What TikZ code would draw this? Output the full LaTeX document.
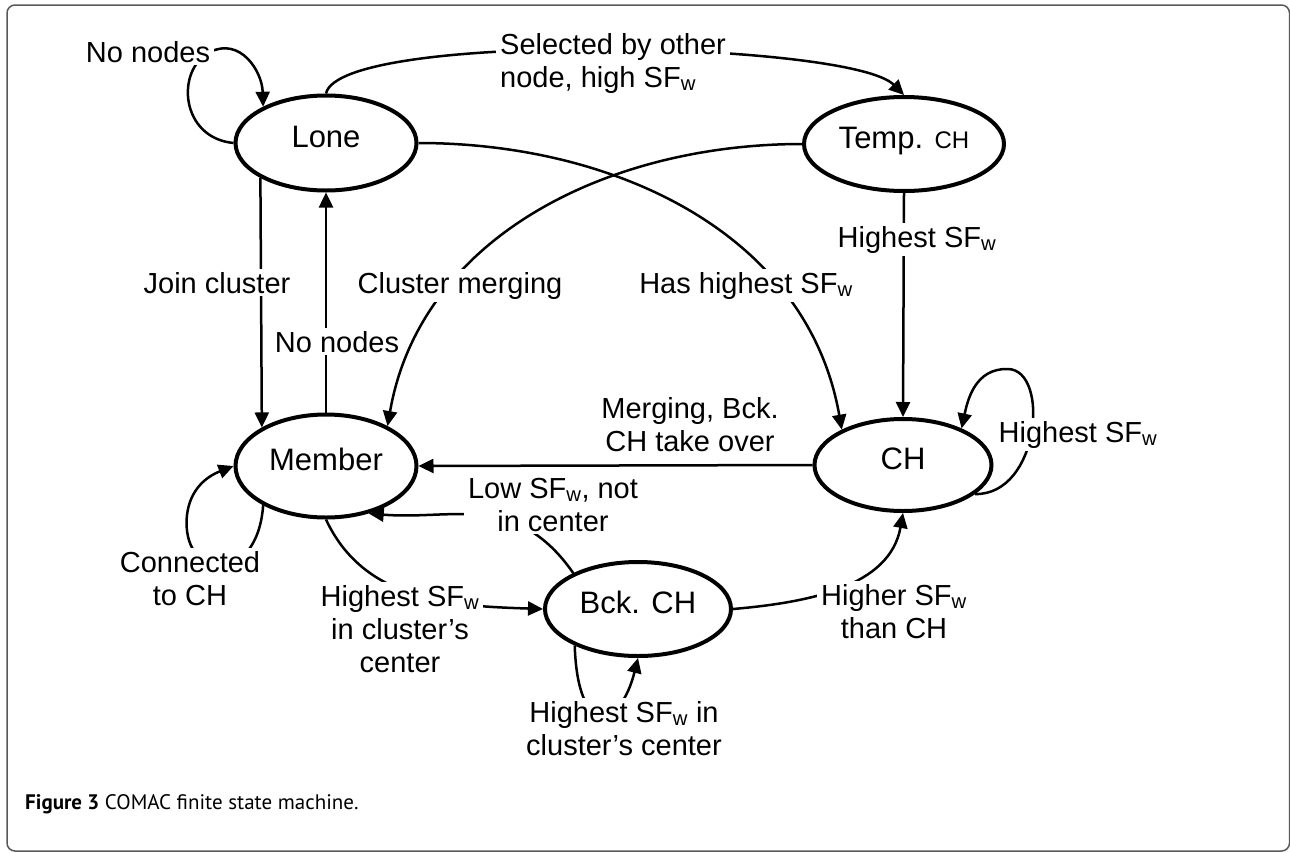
\documentclass[tikz,border=0pt]{standalone}
\usepackage{fontspec}
\setmainfont{Liberation Sans}
\newfontfamily\capfont{PT Sans}
\usetikzlibrary{arrows.meta,shapes.geometric}
\newcommand{\SFw}{SF\textsubscript{w}}
\begin{document}
\begin{tikzpicture}[x=1pt,y=1pt,
  stnode/.style={ellipse, draw, line width=4pt, inner sep=0pt,
    font=\fontsize{31}{35}\selectfont, text height=22pt, text depth=14pt},
  conn/.style={line width=2.5pt},
  arr/.style={conn, -{Triangle[length=15pt,width=14pt]}},
  lbl/.style={fill=white, inner xsep=4pt, inner ysep=3pt, align=center,
    font=\fontsize{29}{33}\selectfont},
]
\useasboundingbox (0,0) rectangle (1290,-852);
\draw[black!65, line width=1.5pt, rounded corners=8pt] (7,-5) rectangle (1289.5,-851);

% states
\node[stnode, minimum width=181pt, minimum height=95pt] (lone) at (326,-143) {Lone};
\node[stnode, minimum width=200pt, minimum height=94pt] (temp) at (904,-144) {Temp. {\fontsize{24}{28}\selectfont CH}};
\node[stnode, minimum width=181pt, minimum height=103pt] (member) at (326,-466) {Member};
\node[stnode, minimum width=177pt, minimum height=92pt] (ch) at (903,-465) {CH};
\node[stnode, minimum width=186pt, minimum height=94pt] (bck) at (638,-609) {Bck. CH};

\coordinate (loneloop) at (210,-52);
\coordinate (chloop) at (1008,-369);
\coordinate (mloop) at (187,-515);

% connectors
\draw[arr] (lone.west) .. controls +(-53,5) and +(-35,-18) .. (loneloop)
  .. controls +(30,15) and +(-1,36) .. (lone.150);
\draw[arr] (lone.north) .. controls +(14,63) and +(-54,54) .. (temp.north);
\draw[arr] (lone.east) .. controls +(198,0) and +(-34,195) .. (ch.150);
\draw[arr] (temp.west) .. controls +(-193,0) and +(33,190) .. (member.33);
\draw[arr] (lone.208.4) -- (member.149.6);
\draw[arr] (member.north) -- (lone.south);
\draw[arr] (ch.west) -- (member.east);
\draw[arr] (temp.south) -- (ch.north);
\draw[arr] (ch.-22) .. controls +(65,-1) and +(42,-1) .. (chloop)
  .. controls +(-33,1) and +(6,28) .. (ch.32);
\draw[arr] (member.212.2) .. controls +(-6,-83) and +(-7,-65) .. (mloop)
  .. controls +(3,25) and +(-28,-11) .. (member.west);
\draw[arr] (member.south) .. controls +(38.5,-82.5) and +(-91,3) .. (bck.west);
\draw[arr] (bck.151.4) .. controls +(-57,82) and +(84,-7) .. (member.-48);
\draw[arr] (bck.east) .. controls +(75,6.5) and +(-13,-74) .. (ch.south);
\draw[arr] (bck.-150) .. controls +(3,-93) and +(-18,-72) .. (bck.south);

% labels (anchor=base is the baseline of the last line)
\node[lbl, anchor=base] (l1) at (148,-62) {No nodes};
\node[lbl, anchor=base west, align=left] (l2) at (496,-87) {Selected by other\hspace{16pt}\\node, high \SFw};
\node[lbl, anchor=base] (l3) at (746,-293) {Has highest \SFw};
\node[lbl, anchor=base] (l4) at (460,-293) {Cluster merging};
\node[lbl, anchor=base] (l5) at (217,-293) {Join cluster};
\node[lbl, anchor=base] (l6) at (337,-352) {No nodes};
\node[lbl, anchor=base] (l7) at (917,-247) {Highest \SFw};
\node[lbl, anchor=base] (l8) at (690,-451) {Merging, Bck.\\CH take over};
\node[lbl, anchor=base] (l9) at (1078,-442) {Highest \SFw};
\node[lbl, anchor=base] (l10) at (553,-531) {Low \SFw, not\\in center};
\node[lbl, anchor=base] (l11) at (190,-605) {Connected\\to CH};
\node[lbl, anchor=base] (l12) at (400,-672) {Highest \SFw\\in cluster’s\\center};
\node[lbl, anchor=base] (l13) at (894,-638) {Higher \SFw\\than CH};
\node[lbl, anchor=base] (l14) at (624,-755) {Highest \SFw{} in\\cluster’s center};

% caption
\node[anchor=base west, inner sep=0pt, font=\capfont\fontsize{21}{25}\selectfont] (cap) at (25,-809)
  {\textbf{Figure 3} COMAC finite state machine.};
\end{tikzpicture}
\end{document}
